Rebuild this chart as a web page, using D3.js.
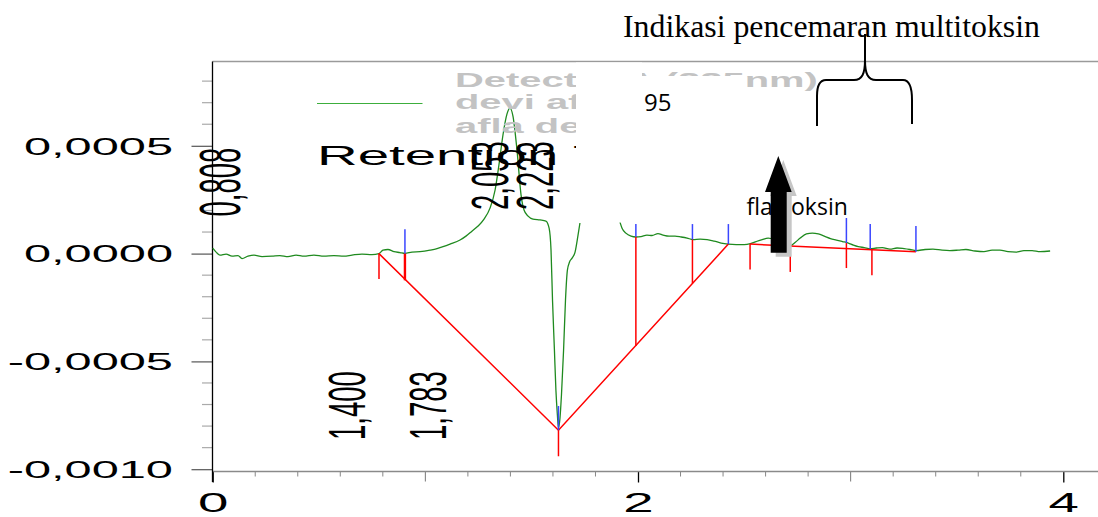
<!DOCTYPE html>
<html>
<head>
<meta charset="utf-8">
<script src="https://cdn.jsdelivr.net/npm/d3@7"></script>
<style>
  html, body { margin: 0; padding: 0; background: #fff; }
  svg { display: block; }
</style>
</head>
<body>
<svg id="chart" width="1098" height="517"></svg>
<script>
// ---- Chromatogram trace: retention time (min) and detector response (AU) ----
const traceTimes = [
  0, 0.016, 0.034, 0.063, 0.091, 0.119, 0.138, 0.166, 0.194, 0.232, 0.279, 0.316,
  0.354, 0.392, 0.429, 0.476, 0.523, 0.570, 0.617, 0.655, 0.702, 0.749, 0.782, 0.801,
  0.824, 0.853, 0.881, 0.904, 0.937, 0.975, 1.022, 1.055, 1.083, 1.116, 1.163, 1.191,
  1.219, 1.248, 1.276, 1.304, 1.328, 1.346, 1.365, 1.384, 1.398, 1.412, 1.431, 1.450,
  1.464, 1.483, 1.506, 1.539, 1.567, 1.582, 1.591, 1.598, 1.607, 1.614, 1.621, 1.626,
  1.633, 1.640, 1.650, 1.659, 1.668, 1.678, 1.690, 1.704, 1.718, 1.727, 1.820, 1.915,
  1.925, 1.943, 1.967, 1.990, 2.014, 2.042, 2.066, 2.094, 2.118, 2.146, 2.174, 2.203,
  2.231, 2.259, 2.292, 2.325, 2.358, 2.391, 2.424, 2.462, 2.499, 2.528, 2.556, 2.584,
  2.612, 2.641, 2.669, 2.693, 2.716, 2.740, 2.763, 2.792, 2.820, 2.848, 2.876, 2.905,
  2.933, 2.961, 2.989, 3.013, 3.036, 3.064, 3.092, 3.121, 3.149, 3.185, 3.218, 3.251,
  3.279, 3.307, 3.350, 3.387, 3.430, 3.467, 3.505, 3.542, 3.585, 3.627, 3.665, 3.702,
  3.740, 3.778, 3.815, 3.853, 3.891, 3.938
];
const traceValues = [
  25e-6, 7e-6, -7e-6, -2e-6, -12e-6, -9e-6, -23e-6, -12e-6, -7e-6, -14e-6, -12e-6, -9e-6,
  -14e-6, -7e-6, -12e-6, -7e-6, -12e-6, -9e-6, -12e-6, -7e-6, -2e-6, -5e-6, 0, 16e-6,
  19e-6, 9e-6, 5e-6, 1e-6, 7e-6, 9e-6, 16e-6, 23e-6, 32e-6, 44e-6, 63e-6, 81e-6,
  104e-6, 128e-6, 160e-6, 211e-6, 295e-6, 411e-6, 550e-6, 648e-6, 675e-6, 638e-6, 480e-6, 272e-6,
  202e-6, 174e-6, 160e-6, 156e-6, 151e-6, 118e-6, 16e-6, -216e-6, -448e-6, -634e-6, -750e-6, -810e-6,
  -764e-6, -657e-6, -448e-6, -216e-6, -77e-6, -39e-6, -21e-6, 7e-6, 86e-6, 142e-6, null, 146e-6,
  118e-6, 95e-6, 81e-6, 77e-6, 79e-6, 86e-6, 84e-6, 93e-6, 86e-6, 81e-6, 81e-6, 77e-6,
  72e-6, 65e-6, 67e-6, 65e-6, 58e-6, 49e-6, 44e-6, 42e-6, 42e-6, 46e-6, 56e-6, 65e-6,
  72e-6, 65e-6, 49e-6, 39e-6, 37e-6, 53e-6, 72e-6, 91e-6, 95e-6, 91e-6, 81e-6, 70e-6,
  63e-6, 56e-6, 49e-6, 39e-6, 32e-6, 28e-6, 23e-6, 26e-6, 28e-6, 21e-6, 26e-6, 23e-6,
  19e-6, 14e-6, 19e-6, 21e-6, 16e-6, 14e-6, 16e-6, 19e-6, 12e-6, 9e-6, 16e-6, 16e-6,
  9e-6, 7e-6, 14e-6, 14e-6, 9e-6, 12e-6
];

// ---- Integration baseline (red) ----
const baselineTimesA = [0.782, 1.626, 2.425];
const baselineValuesA = [0, -819e-6, 44e-6];
const baselineTimesB = [2.527, 3.307];
const baselineValuesB = [44e-6, 9e-6];

// ---- Peak drop lines (red) ----
const dropTimes  = [0.782, 0.904, 1.626, 1.990, 2.256, 2.527, 2.716, 2.980, 3.100];
const dropTop    = [2e-6, 1e-6, -819e-6, 78e-6, 66e-6, 44e-6, 35e-6, 49e-6, 21e-6];
const dropBottom = [-118e-6, -124e-6, -940e-6, -428e-6, -138e-6, -74e-6, -85e-6, -67e-6, -100e-6];

// ---- Peak start / end marks (blue) ----
const markTimes = [0.904, 1.626, 1.990, 2.256, 2.425, 2.716, 2.980, 3.092, 3.307];
const markBase  = [1e-6, -819e-6, 78e-6, 66e-6, 44e-6, 35e-6, 49e-6, 21e-6, 9e-6];
const markTop   = [113e-6, -707e-6, 137e-6, 137e-6, 137e-6, 152e-6, 165e-6, 137e-6, 128e-6];

// ---- Axis ticks ----
const xMajorTicks = [0, 2, 4];
const xMidTicks = [1, 3];
const xMinorTicks = [0.2, 0.4, 0.6, 0.8, 1.2, 1.4, 1.6, 1.8, 2.2, 2.4, 2.6, 2.8, 3.2, 3.4, 3.6, 3.8];
const yMajorTicks = [0.0005, 0, -0.0005, -0.001];
const yMinorTicks = [0.0008, 0.0007, 0.0006, 0.0004, 0.0003, 0.0002, 0.0001,
                     -0.0001, -0.0002, -0.0003, -0.0004, -0.0006, -0.0007, -0.0008, -0.0009];

// ---- Peak retention-time labels ----
const peakLabels = ["0,808", "2,053", "2,223", "1,400", "1,783"];
// label placement: baseline x, start y, glyph-height stretch
const peakLabelLayout = [[240, 216.5, 2.08], [508, 210, 1.9], [553, 210, 1.9], [365, 440, 1.88], [446, 440, 1.9]];

// ---- Legend / annotation texts ----
const legendLines = ["Detector A (225nm)", "devi afla", "afla devi"];
const axisTitle = "Retention Time";
const titleText = "Indikasi pencemaran multitoksin";
const noteNumber = "95";
const noteLabel = ["fla", "t", "oksin"];

const svg = d3.select("#chart");
const SANS = "'Liberation Sans', Arial, sans-serif";

const x = d3.scaleLinear().domain([0, 4]).range([212.7, 1063.3]);
const y = d3.scaleLinear().domain([-0.001, 0.0005]).range([469.2, 145.8]);
const plotTop = 61.5, plotBottom = 471.5, plotLeft = 212.5, plotRight = 1098;

const comma = d3.formatLocale({ decimal: ",", thousands: ".", grouping: [3], currency: ["", ""], minus: "-" });
const yFmt = comma.format(".4f");

// frame lines
svg.append("line").attr("x1", plotLeft).attr("x2", plotRight).attr("y1", plotTop).attr("y2", plotTop)
  .attr("stroke", "#9a9a9a").attr("stroke-width", 1.5);

// ---- Y axis ----
const gy = svg.append("g").attr("transform", `translate(${plotLeft},0)`)
  .call(d3.axisLeft(y).tickValues(yMajorTicks).tickSize(21).tickFormat(yFmt));
gy.select(".domain").remove();
gy.selectAll(".tick line").attr("stroke", "#555").attr("stroke-width", 1.2);
gy.selectAll(".tick text")
  .attr("x", 0).attr("dy", "0.36em")
  .attr("text-anchor", "end")
  .attr("transform", "translate(-39.5,0) scale(2.12,1)")
  .attr("font-family", SANS).attr("font-size", 23).attr("fill", "#000");
gy.selectAll("line.minor").data(yMinorTicks).join("line").attr("class", "minor")
  .attr("x1", -10.5).attr("x2", 0).attr("y1", d => y(d)).attr("y2", d => y(d))
  .attr("stroke", "#aaa").attr("stroke-width", 1.2);

// ---- X axis ----
const gx = svg.append("g").attr("transform", `translate(0,${plotBottom})`)
  .call(d3.axisBottom(x).tickValues(xMajorTicks).tickSize(11).tickSizeOuter(0).tickFormat(d3.format("d")));
gx.select(".domain").remove();
gx.selectAll(".tick line").attr("stroke", "#000").attr("stroke-width", 1.3);
gx.selectAll(".tick text")
  .attr("y", 40.2).attr("dy", null)
  .attr("transform", "scale(1.95,1)")
  .attr("font-family", SANS).attr("font-size", 28).attr("fill", "#000");
gx.selectAll("line.mid").data(xMidTicks).join("line").attr("class", "mid")
  .attr("x1", d => x(d)).attr("x2", d => x(d)).attr("y1", 0).attr("y2", 10)
  .attr("stroke", "#777").attr("stroke-width", 1);
gx.selectAll("line.minor").data(xMinorTicks).join("line").attr("class", "minor")
  .attr("x1", d => x(d)).attr("x2", d => x(d)).attr("y1", 0).attr("y2", 5)
  .attr("stroke", "#888").attr("stroke-width", 1);

svg.append("line").attr("x1", plotLeft).attr("x2", plotRight).attr("y1", plotBottom).attr("y2", plotBottom)
  .attr("stroke", "#8a8a8a").attr("stroke-width", 1.5);
svg.append("line").attr("x1", plotLeft).attr("x2", plotLeft).attr("y1", plotTop).attr("y2", 482)
  .attr("stroke", "#000").attr("stroke-width", 1.3);

// ---- Trace ----
const tracePts = traceTimes.map((t, i) => ({ t, v: traceValues[i] }));
const line = d3.line().defined(d => d.v !== null).x(d => x(d.t)).y(d => y(d.v)).curve(d3.curveMonotoneX);
svg.append("path").datum(tracePts).attr("d", line)
  .attr("fill", "none").attr("stroke", "#1f8a1f").attr("stroke-width", 1.3);

// ---- Integration baseline ----
const straight = d3.line().x(d => x(d.t)).y(d => y(d.v));
[[baselineTimesA, baselineValuesA], [baselineTimesB, baselineValuesB]].forEach(([ts, vs]) => {
  svg.append("path").datum(ts.map((t, i) => ({ t, v: vs[i] }))).attr("d", straight)
    .attr("fill", "none").attr("stroke", "#ff0000").attr("stroke-width", 1.5);
});

// drop lines
svg.selectAll("line.drop").data(dropTimes).join("line").attr("class", "drop")
  .attr("x1", d => x(d)).attr("x2", d => x(d))
  .attr("y1", (d, i) => y(dropTop[i])).attr("y2", (d, i) => y(dropBottom[i]))
  .attr("stroke", "#ff0000").attr("stroke-width", (d, i) => i === 1 ? 2.4 : 1.5);

// peak marks
svg.selectAll("line.mark").data(markTimes).join("line").attr("class", "mark")
  .attr("x1", d => x(d)).attr("x2", d => x(d))
  .attr("y1", (d, i) => y(markBase[i])).attr("y2", (d, i) => y(markTop[i]))
  .attr("stroke", "#3a46ff").attr("stroke-width", 1.5);

// ---- Legend ----
svg.append("line").attr("x1", 317).attr("x2", 422.5).attr("y1", 103.5).attr("y2", 103.5)
  .attr("stroke", "#3cae3c").attr("stroke-width", 1.2);
const legendBaselines = [86.8, 108.6, 133];
svg.selectAll("text.legend").data(legendLines).join("text").attr("class", "legend")
  .attr("transform", (d, i) => `translate(455,${legendBaselines[i]}) scale(1.9,1)`)
  .attr("font-family", SANS).attr("font-weight", "bold").attr("font-size", 21)
  .attr("fill", "#c3c3c3").text(d => d);

svg.append("text").attr("transform", "translate(317,165.3) scale(2.05,1)")
  .attr("font-family", SANS).attr("font-size", 27.5).attr("fill", "#000").text(axisTitle);

// ---- Peak labels (rotated) ----
svg.selectAll("text.peak").data(peakLabels).join("text").attr("class", "peak")
  .attr("transform", (d, i) => {
    const [bx, by, sx] = peakLabelLayout[i];
    return `translate(${bx},${by}) scale(${sx},1) rotate(-90)`;
  })
  .attr("font-family", SANS).attr("font-size", 27.5).attr("fill", "#000").text(d => d);

// ---- Note box ----
svg.append("rect").attr("x", 576).attr("y", 62.5).attr("width", 66).attr("height", 160).attr("fill", "#fff");
svg.append("rect").attr("x", 641).attr("y", 76).attr("width", 103.5).attr("height", 146.5).attr("fill", "#fff");

svg.append("text").attr("x", 644).attr("y", 110.5)
  .attr("font-family", "'Open Sans', 'Noto Sans', sans-serif").attr("font-size", 24).attr("fill", "#000")
  .text(noteNumber);

const note = svg.append("text").attr("y", 215)
  .attr("font-family", "'Open Sans', 'Noto Sans', sans-serif").attr("font-size", 23).attr("fill", "#000");
const noteX = [746.5, 773, 791];
note.selectAll("tspan").data(noteLabel).join("tspan").attr("x", (d, i) => noteX[i]).text(d => d);

// arrow with drop shadow
const arrowPath = "M778.3,156 L791.7,192 L786.7,192 L786.7,252.7 L770.7,252.7 L770.7,192 L765,192 Z";
svg.append("path").attr("d", arrowPath).attr("transform", "translate(5,4)").attr("fill", "#c6c6c6");
svg.append("path").attr("d", arrowPath).attr("fill", "#000");

// brace
svg.append("path")
  .attr("d", "M865,34 L865,60 C865,74 862,80 854,80 L826,80 C819,80 817,86 817,96 L817,126" +
             " M865,60 C865,74 868,80 876,80 L903,80 C910,80 912,88 912,100 L912,124")
  .attr("fill", "none").attr("stroke", "#000").attr("stroke-width", 2);

// title
svg.append("text").attr("x", 623).attr("y", 36.7)
  .attr("font-family", "'Liberation Serif', 'Times New Roman', serif").attr("font-size", 31)
  .attr("textLength", 417).attr("lengthAdjust", "spacingAndGlyphs")
  .attr("fill", "#000").text(titleText);
</script>
</body>
</html>
